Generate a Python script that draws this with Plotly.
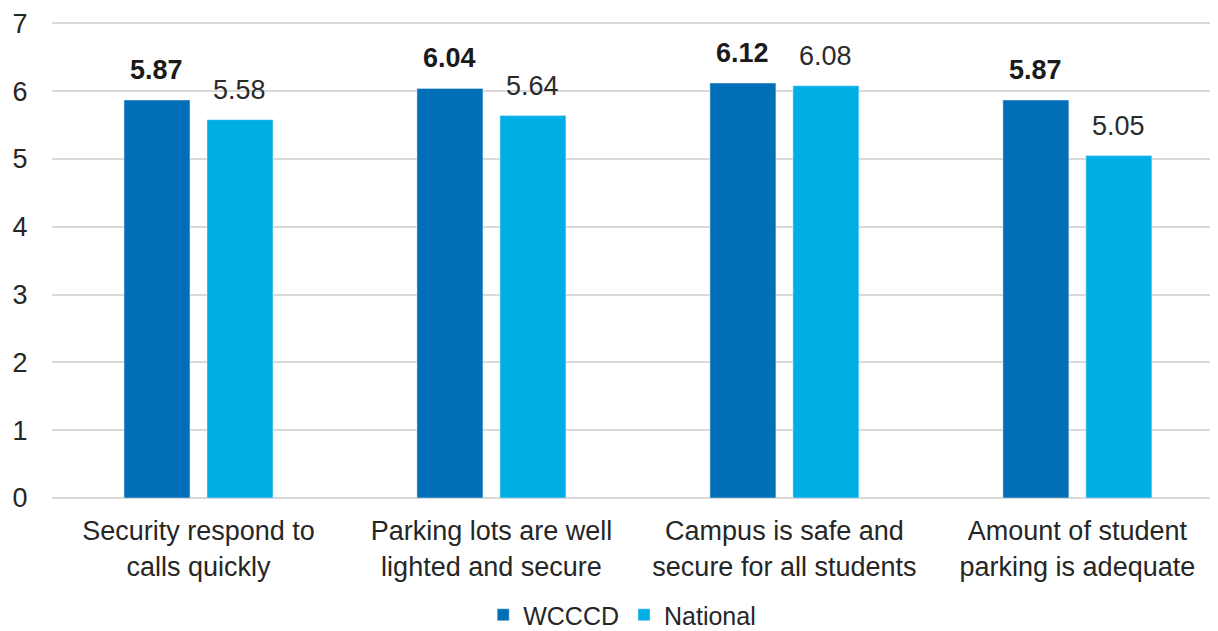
import plotly.graph_objects as go

categories = ["Security respond to<br>calls quickly",
              "Parking lots are well<br>lighted and secure",
              "Campus is safe and<br>secure for all students",
              "Amount of student<br>parking is adequate"]
wcccd = [5.87, 6.04, 6.12, 5.87]
national = [5.58, 5.64, 6.08, 5.05]
y_ticks = [0, 1, 2, 3, 4, 5, 6, 7]

W, H = 1210, 623
ML, MR, MT, MB = 44, 0, 13, 133
BARGAP, GROUPGAP = 0.4334, 0.205
X_RANGE = [-0.5, 3.48]
Y_RANGE = [0, 7.035]

fig = go.Figure()
fig.add_trace(go.Bar(x=categories, y=wcccd, name="WCCCD",
                     marker=dict(color="#006FB7")))
fig.add_trace(go.Bar(x=categories, y=national, name="National",
                     marker=dict(color="#00AEE6")))

# value labels: placed above each bar using the bar-group geometry
plot_w = W - ML - MR
cat_px = plot_w / (X_RANGE[1] - X_RANGE[0])
slot_px = (1 - BARGAP) * cat_px / 2
for series, shift, bold in ((wcccd, -slot_px / 2, True), (national, slot_px / 2, False)):
    for cat, v in zip(categories, series):
        txt = "<b>%.2f</b>" % v if bold else "%.2f" % v
        fig.add_annotation(x=cat, y=v, xref="x", yref="y", text=txt, showarrow=False,
                           xshift=shift, yanchor="bottom", yshift=13,
                           font=dict(size=27, color="#1a1a1a" if bold else "#2b2b2b"))

fig.update_layout(
    width=W, height=H,
    margin=dict(l=ML, r=MR, t=MT, b=MB, autoexpand=False),
    paper_bgcolor="white", plot_bgcolor="white",
    font=dict(family="Arial, Liberation Sans, sans-serif", color="#262626"),
    barmode="group", bargap=BARGAP, bargroupgap=GROUPGAP,
    showlegend=True,
    legend=dict(orientation="h", x=0.489, xanchor="center", y=-0.2453, yanchor="middle",
                font=dict(size=25, color="#262626"), itemwidth=30, traceorder="normal"),
    yaxis=dict(range=Y_RANGE, tickvals=y_ticks, showgrid=True, gridcolor="#D9D9D9",
               gridwidth=1.5, zeroline=True, zerolinecolor="#D9D9D9", zerolinewidth=1.5,
               showline=False, automargin=False, ticklabeloverflow="allow",
               tickfont=dict(size=27, color="#262626"),
               ticks="outside", ticklen=18, tickcolor="rgba(0,0,0,0)"),
    xaxis=dict(range=X_RANGE, showline=False, automargin=False,
               tickfont=dict(size=27, color="#262626"),
               ticks="outside", ticklen=9, tickcolor="rgba(0,0,0,0)"),
)
fig.write_html("out.html")
